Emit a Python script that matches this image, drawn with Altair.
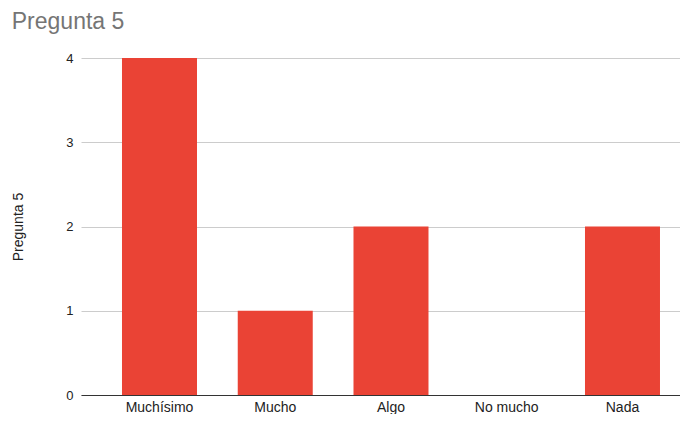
import altair as alt
import pandas as pd

categories = ["Muchísimo", "Mucho", "Algo", "No mucho", "Nada"]
values = [4, 1, 2, 0, 2]
y_ticks = [0, 1, 2, 3, 4]

df = pd.DataFrame({"cat": categories, "val": values})

FONT = "Liberation Sans, Arial, sans-serif"

chart = alt.Chart(df).mark_bar(color="#EA4335").encode(
    x=alt.X("cat:N", sort=categories, title=None,
            scale=alt.Scale(paddingInner=0.352, paddingOuter=0.2635, align=0.672),
            axis=alt.Axis(labelAngle=0, ticks=False, domain=True, domainColor="#333333",
                          domainWidth=1, labelColor="#222222", labelFontSize=14,
                          labelFont=FONT, labelBaseline="alphabetic", labelPadding=16,
                          grid=False)),
    y=alt.Y("val:Q", title="Pregunta 5",
            scale=alt.Scale(domain=[0, 4], nice=False),
            axis=alt.Axis(values=y_ticks, ticks=False, domain=False, grid=True,
                          gridColor="#cccccc", labelColor="#222222", labelFontSize=13,
                          labelFont=FONT, labelPadding=8, titleColor="#222222",
                          titleFontSize=14, titleFont=FONT, titleFontWeight="normal",
                          titlePadding=40, format="d")),
).properties(
    width=599,
    height=337,
    padding={"left": 73, "top": 50, "right": 0, "bottom": 19},
    autosize=alt.AutoSizeParams(type="none"),
    title=alt.TitleParams("Pregunta 5", anchor="start", frame="bounds", fontSize=23,
                          font=FONT, fontWeight="normal", color="#757575", offset=18),
).configure_view(stroke=None)

chart.save("out.html", embed_options={"renderer": "svg", "actions": False})
